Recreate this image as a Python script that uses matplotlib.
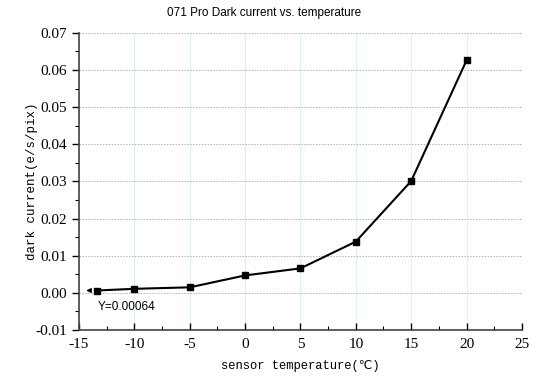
import matplotlib.pyplot as plt
from matplotlib.ticker import MultipleLocator

# dados
temperaturas = [-13.4, -10, -5, 0, 5, 10, 15, 20]
corrente_escura = [0.00064, 0.0011, 0.0015, 0.0047, 0.0066, 0.0138, 0.0301, 0.0626]

fig = plt.figure(figsize=(5.6, 3.82), dpi=100)
ax = fig.add_axes([0.141, 0.136, 0.791, 0.778])

ax.plot(temperaturas, corrente_escura, marker='s', markersize=5, color='black', linewidth=1.5, zorder=3)

ax.set_xlim(-15, 25)
ax.set_ylim(-0.01, 0.07)
ax.xaxis.set_major_locator(MultipleLocator(5))
ax.xaxis.set_minor_locator(MultipleLocator(2.5))
ax.yaxis.set_major_locator(MultipleLocator(0.01))
ax.yaxis.set_minor_locator(MultipleLocator(0.005))
ax.yaxis.set_major_formatter(plt.FuncFormatter(lambda v, p: f'{v:.2f}'))
ax.xaxis.set_major_formatter(plt.FuncFormatter(lambda v, p: f'{v:.0f}'))

# grades: verticais azuladas, horizontais pontilhadas
ax.grid(True, axis='x', color='#dff0f5', linewidth=0.8)
ax.grid(True, axis='y', color='#b0b0b0', linestyle=(0, (1.5, 1.5)), linewidth=0.7)

for s in ['top', 'right']:
    ax.spines[s].set_visible(False)
for s in ['left', 'bottom']:
    ax.spines[s].set_color('#444444')
    ax.spines[s].set_linewidth(1.2)

# eixo y com ticks para fora, eixo x com ticks para dentro
ax.tick_params(axis='y', which='major', direction='out', length=5, width=1, labelsize=11)
ax.tick_params(axis='y', which='minor', direction='out', length=3, width=0.8)
ax.tick_params(axis='x', which='major', direction='in', length=5, width=1, labelsize=11, pad=6)
ax.tick_params(axis='x', which='minor', direction='in', length=3, width=0.8)
for lbl in ax.get_xticklabels() + ax.get_yticklabels():
    lbl.set_fontfamily('Liberation Serif')

ax.set_xlabel('sensor temperature(℃)', family=['Liberation Mono', 'DejaVu Sans Mono', 'DejaVu Sans'], fontsize=8.7, labelpad=6)
ax.set_ylabel('dark current(e/s/pix)', family=['Liberation Mono', 'DejaVu Sans Mono', 'DejaVu Sans'], fontsize=9, labelpad=-2)

fig.text(0.472, 0.965, '071 Pro Dark current vs. temperature', ha='center', va='center',
         family='Liberation Sans', fontsize=8.5)

# seta indicando o intercepto
ax.annotate('', xy=(-14.6, corrente_escura[0]), xytext=(-13.8, corrente_escura[0]),
            arrowprops=dict(arrowstyle='-|>', color='black', lw=0.8, mutation_scale=7))
ax.text(-13.3, -0.0038, 'Y=0.00064', family='Liberation Sans', fontsize=8.5, va='center')

fig.savefig('out.png', dpi=100)
